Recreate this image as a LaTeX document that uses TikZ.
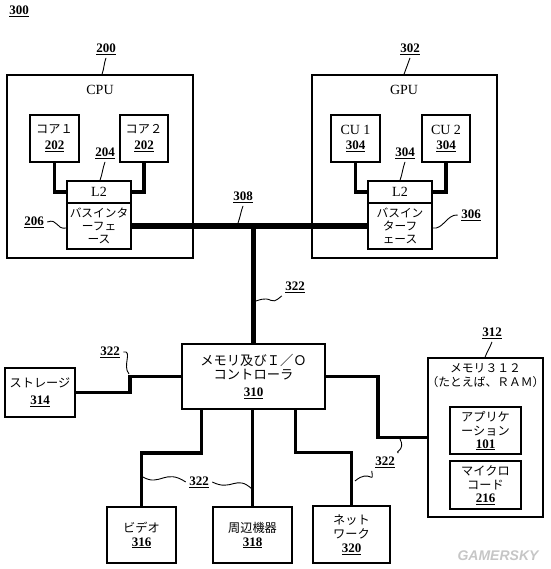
\documentclass[tikz,border=0pt]{standalone}
\usepackage{fontspec}
\setmainfont{Liberation Serif}
\newfontfamily\jp{Noto Sans CJK JP}
\newfontfamily\wmfont{Liberation Sans}
\usetikzlibrary{positioning}
\newcommand{\partno}[1]{{\rmfamily\bfseries\fontsize{13}{15}\selectfont\underline{#1}}}
\newcommand{\latin}{\rmfamily\fontsize{14}{16}\selectfont}

\begin{document}
\begin{tikzpicture}[x=1pt, y=-1pt,
    box/.style={draw, line width=1.4pt, inner sep=1pt, align=center, font=\jp\fontsize{12.2}{14}\selectfont},
    bus/.style={line width=5.5pt},
    link/.style={line width=3.6pt},
    thinlink/.style={line width=2.6pt},
    leader/.style={line width=0.9pt}]
    \useasboundingbox (0,0) rectangle (550,569);
    \node (l300) at (19,11) {\partno{300}};

    % CPU
    \node[box, minimum width=186, minimum height=183] (cpu) at (100,166.5) {};
    \node[font=\latin] (cpuname) at (100,90) {CPU};
    \node[box, minimum width=49, minimum height=47] (core1) at (54.5,138.5) {コア１\\[2pt]\partno{202}};
    \node[box, minimum width=48, minimum height=47] (core2) at (144,138.5) {コア２\\[2pt]\partno{202}};
    \node[box, font=\latin, minimum width=64, minimum height=22] (cpul2) at (99,192) {L2};
    \node[box, minimum width=64, minimum height=46, font=\jp\fontsize{11.7}{13}\selectfont] (cpubi) at (99,226) {バスインタ\\ーフェ\\ース};
    \draw[link] (core1.south) |- (cpul2.west);
    \draw[link] (core2.south) |- (cpul2.east);
    \node (l200) at (106,49) {\partno{200}};
    \node (l204) at (105,153) {\partno{204}};
    \node (l206) at (34,222) {\partno{206}};
    \draw[leader] (l200.south) to[out=-110,in=70] ([xshift=2pt]cpu.north);
    \draw[leader] (l204.south) to[out=-110,in=70] ([xshift=1pt]cpul2.north);
    \draw[leader] (l206.east) .. controls (58,218) and (56,230) .. ([yshift=-2pt]cpubi.west);

    % GPU
    \node[box, minimum width=185, minimum height=183] (gpu) at (404.5,166.5) {};
    \node[font=\latin] (gpuname) at (404,90) {GPU};
    \node[box, font=\latin, minimum width=49, minimum height=47] (cu1) at (355.5,138.5) {CU 1\\[-1pt]\partno{304}};
    \node[box, font=\latin, minimum width=48, minimum height=47] (cu2) at (446,138.5) {CU 2\\[-1pt]\partno{304}};
    \node[box, font=\latin, minimum width=64, minimum height=22] (gpul2) at (400,192) {L2};
    \node[box, minimum width=64, minimum height=46, font=\jp\fontsize{11.7}{13}\selectfont] (gpubi) at (400,226) {バスイン\\ターフ\\ェース};
    \draw[link] (cu1.south) |- (gpul2.west);
    \draw[link] (cu2.south) |- (gpul2.east);
    \node (l302) at (410,49) {\partno{302}};
    \node (l304) at (405,153) {\partno{304}};
    \node (l306) at (471,215) {\partno{306}};
    \draw[leader] (l302.south) to[out=-110,in=70] (cpu.north -| 404,0);
    \draw[leader] (l304.south) to[out=-110,in=70] (gpul2.north);
    \draw[leader] (l306.west) .. controls (447,214) and (443,230) .. ([yshift=-2pt]gpubi.east);

    % bus 308
    \node[box, minimum width=143, minimum height=65, font=\jp\fontsize{13.3}{14}\selectfont] (io) at (253.5,376.5) {メモリ及びＩ／Ｏ\\コントローラ\\[3pt]\partno{310}};
    \coordinate (busT) at (io.north |- cpubi.east);
    \draw[bus] (cpubi.east) -- (gpubi.west);
    \draw[bus] (busT) -- (io.north);
    \node (l308) at (243,197) {\partno{308}};
    \coordinate (j308) at (238,223);
    \draw[leader] (l308.south) to[out=-110,in=70] (j308);

    % devices
    \node[box, minimum width=70, minimum height=49] (sto) at (40,392.5) {ストレージ\\[3pt]\partno{314}};
    \node[box, minimum width=69, minimum height=56] (vid) at (141.5,535) {ビデオ\\\partno{316}};
    \node[box, minimum width=79, minimum height=56] (per) at (252.5,535) {周辺機器\\\partno{318}};
    \node[box, minimum width=77, minimum height=57] (net) at (351.5,534.5) {ネット\\ワーク\\\partno{320}};
    \node[box, minimum width=115, minimum height=159] (mem) at (485.5,437.5) {};
    \node[font=\jp\fontsize{11.8}{14}\selectfont, align=center] (memname) at (485.5,376) {メモリ３１２\\（たとえば、ＲＡＭ）};
    \node[box, minimum width=71, minimum height=47] (app) at (485.5,430.5) {アプリケ\\ーション\\[-1pt]\partno{101}};
    \node[box, minimum width=71, minimum height=48] (mic) at (485.5,485) {マイクロ\\コード\\[-1pt]\partno{216}};
    \node (l312) at (492,333) {\partno{312}};
    \draw[leader] (l312.south) to[out=-110,in=70] (mem.north -| 485,0);

    \draw[link] (sto.east) -- ++(54,0) |- (io.west);
    \draw[link] (io.east) -- ++(52,0) |- (mem.west);
    \draw[link] ([xshift=-52pt]io.south) -- ++(0,43) -| (vid.north);
    \draw[thinlink] (per.north |- io.south) -- (per.north);
    \draw[thinlink] ([xshift=42pt]io.south) -- ++(0,43) -| (net.north);

    % 322 leaders
    \node (l322a) at (295,287) {\partno{322}};
    \node (l322b) at (110,352) {\partno{322}};
    \node (l322c) at (199,482) {\partno{322}};
    \node (l322d) at (385,462) {\partno{322}};
    \coordinate (j322a) at (256,301);
    \coordinate (j322b) at (129,374);
    \coordinate (j322c) at (143,477);
    \coordinate (j322d) at (252,489);
    \coordinate (j322e) at (355,481);
    \coordinate (j322f) at (400,439);
    \draw[leader] (j322a) .. controls (275,294) and (268,308) .. (l322a.south west);
    \draw[leader] (l322b.east) .. controls (133,350) and (122,366) .. (j322b);
    \draw[leader] (j322c) .. controls (160,487) and (165,468) .. (l322c.west);
    \draw[leader] (l322c.east) .. controls (232,492) and (236,474) .. (j322d);
    \draw[leader] (j322e) .. controls (370,468) and (374,486) .. (l322d.south west);
    \draw[leader] (j322f) .. controls (406,450) and (394,452) .. (l322d.north east);

    \node[font=\wmfont\bfseries\itshape\fontsize{14}{14}\selectfont, text=gray!45] (wm) at (498,556) {GAMERSKY};
\end{tikzpicture}
\end{document}
